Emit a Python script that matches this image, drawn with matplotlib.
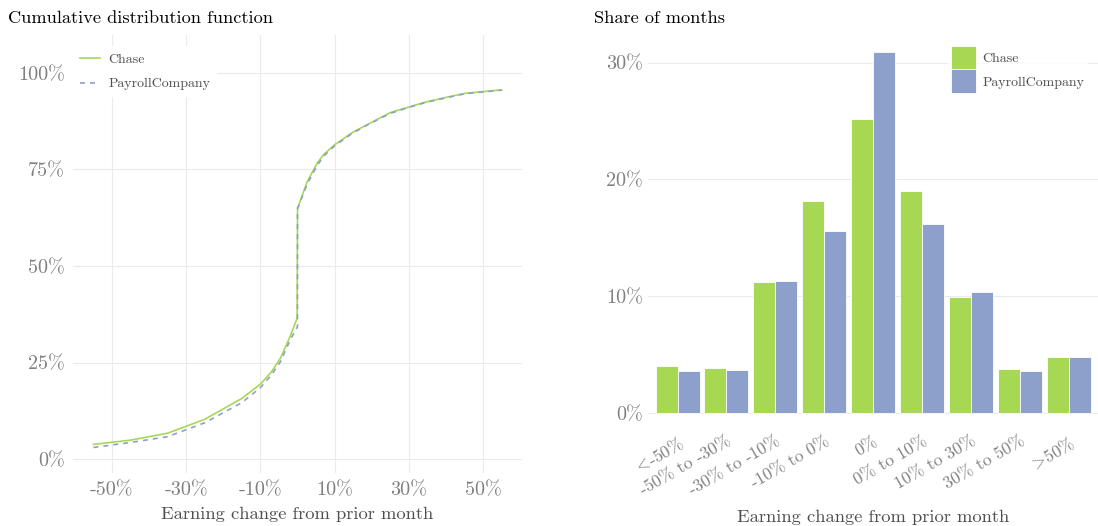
import numpy as np
import matplotlib
matplotlib.use("Agg")
import matplotlib.pyplot as plt

plt.rcParams.update({
    "font.family": ["cmr10", "DejaVu Serif"],
    "mathtext.fontset": "cm",
    "axes.unicode_minus": False,
})

# CDF data
chase_x = [-55, -45, -35, -25, -15, -10, -7, -4.6, -2, -0.1, 0, 0.5, 2.6, 5.3, 7, 9.9, 14.7, 19.6, 25, 29.5, 34.4, 40.3, 45.2, 55]
chase_y = [0.038, 0.049, 0.067, 0.103, 0.157, 0.194, 0.226, 0.261, 0.317, 0.365, 0.645, 0.662, 0.718, 0.766, 0.788, 0.813, 0.845, 0.870, 0.897, 0.910, 0.924, 0.937, 0.947, 0.956]
payroll_x = [-55, -45, -35, -25, -15, -10, -7, -4.6, -2, 0, 0, 0.5, 2.6, 5.3, 7, 9.9, 14.7, 19.6, 25, 29.5, 34.4, 40.3, 45.2, 55]
payroll_y = [0.030, 0.043, 0.058, 0.094, 0.146, 0.185, 0.218, 0.252, 0.308, 0.343, 0.650, 0.660, 0.712, 0.760, 0.784, 0.810, 0.843, 0.869, 0.895, 0.909, 0.923, 0.936, 0.946, 0.955]

cdf_xticks = [-50, -30, -10, 10, 30, 50]
cdf_xticklabels = ["-50%", "-30%", "-10%", "10%", "30%", "50%"]
cdf_yticks = [0, 0.25, 0.5, 0.75, 1.0]
cdf_yticklabels = ["0%", "25%", "50%", "75%", "100%"]

# share of months
bins = [r"$\!<\!$-50%", "-50% to -30%", "-30% to -10%", "-10% to 0%", "0%",
        "0% to 10%", "10% to 30%", "30% to 50%", r"$\!>\!$50%"]
chase_share = [4.05, 3.82, 11.23, 18.13, 25.15, 19.02, 9.89, 3.79, 4.76]
payroll_share = [3.56, 3.65, 11.29, 15.57, 30.88, 16.19, 10.35, 3.59, 4.82]
share_yticks = [0, 10, 20, 30]
share_yticklabels = ["0%", "10%", "20%", "30%"]

green = "#a6d854"
blue = "#8da0cb"
grid_c = "#ebebeb"
tick_c = "#808080"
lab_c = "#4d4d4d"

fig = plt.figure(figsize=(10.98, 5.26), dpi=100)

# ---- left: CDF
ax1 = fig.add_axes([0.0665, 0.1008, 0.4089, 0.8327])
ax1.plot(chase_x, chase_y, color=green, lw=1.2, label="Chase", zorder=3)
ax1.plot(payroll_x, payroll_y, color=blue, lw=1.2, dashes=(3, 3), label="PayrollCompany", zorder=3)
ax1.set_xlim(-60.5, 60.5)
ax1.set_ylim(-0.036, 1.098)
ax1.set_xticks(cdf_xticks)
ax1.set_xticklabels(cdf_xticklabels)
ax1.set_yticks(cdf_yticks)
ax1.set_yticklabels(cdf_yticklabels)
ax1.grid(True, color=grid_c, lw=0.8)
ax1.set_axisbelow(True)
for s in ax1.spines.values():
    s.set_visible(False)
ax1.tick_params(length=0, labelsize=14.5, labelcolor=tick_c, pad=6)
ax1.set_xlabel("Earning change from prior month", fontsize=13.3, color=lab_c, va="center")
ax1.xaxis.set_label_coords(0.5, -0.095)
leg1 = ax1.legend(loc="upper left", bbox_to_anchor=(0.0665, 0.912), bbox_transform=fig.transFigure,
                  frameon=True, fontsize=10, handlelength=1.44, labelspacing=0.85,
                  borderpad=0.5, handletextpad=0.6, borderaxespad=0)
leg1.get_frame().set_facecolor("white")
leg1.get_frame().set_edgecolor("none")
leg1.get_frame().set_alpha(1)
leg1.get_frame().set_boxstyle("square", pad=0)
for t in leg1.get_texts():
    t.set_color(lab_c)
fig.text(0.007, 0.965, "Cumulative distribution function", fontsize=13.2, color="black", va="center")

# ---- right: bars
ax2 = fig.add_axes([0.5904, 0.1806, 0.4096, 0.7548])
x = np.arange(1, len(bins) + 1)
w = 0.45
ax2.bar(x - w / 2, chase_share, w, color=green, edgecolor="white", lw=0.6, label="Chase")
ax2.bar(x + w / 2, payroll_share, w, color=blue, edgecolor="white", lw=0.6, label="PayrollCompany")
ax2.set_xlim(0.4, 9.6)
ax2.set_ylim(-1.55, 32.45)
ax2.set_yticks(share_yticks)
ax2.set_yticklabels(share_yticklabels)
ax2.set_xticks(x)
ax2.set_xticklabels(bins, rotation=30, ha="right", va="top", rotation_mode="anchor")
ax2.yaxis.grid(True, color=grid_c, lw=0.8)
ax2.set_axisbelow(True)
for s in ax2.spines.values():
    s.set_visible(False)
ax2.tick_params(axis="y", length=0, labelsize=14.5, labelcolor=tick_c, pad=4)
ax2.tick_params(axis="x", length=0, labelsize=12.5, labelcolor=tick_c, pad=2)
ax2.set_xlabel("Earning change from prior month", fontsize=13.3, color=lab_c, va="center")
ax2.xaxis.set_label_coords(0.5, -0.217)
leg2 = ax2.legend(loc="upper left", bbox_to_anchor=(0.8625, 0.921), bbox_transform=fig.transFigure,
                  frameon=True, fontsize=10, handlelength=1.8, handleheight=2.25, labelspacing=0.0,
                  borderpad=0.3, handletextpad=0.43, borderaxespad=0)
leg2.get_frame().set_facecolor("white")
leg2.get_frame().set_edgecolor("none")
leg2.get_frame().set_boxstyle("square", pad=0)
for t in leg2.get_texts():
    t.set_color(lab_c)
fig.text(0.541, 0.965, "Share of months", fontsize=13.2, color="black", va="center")

fig.savefig("out.png", dpi=100)
